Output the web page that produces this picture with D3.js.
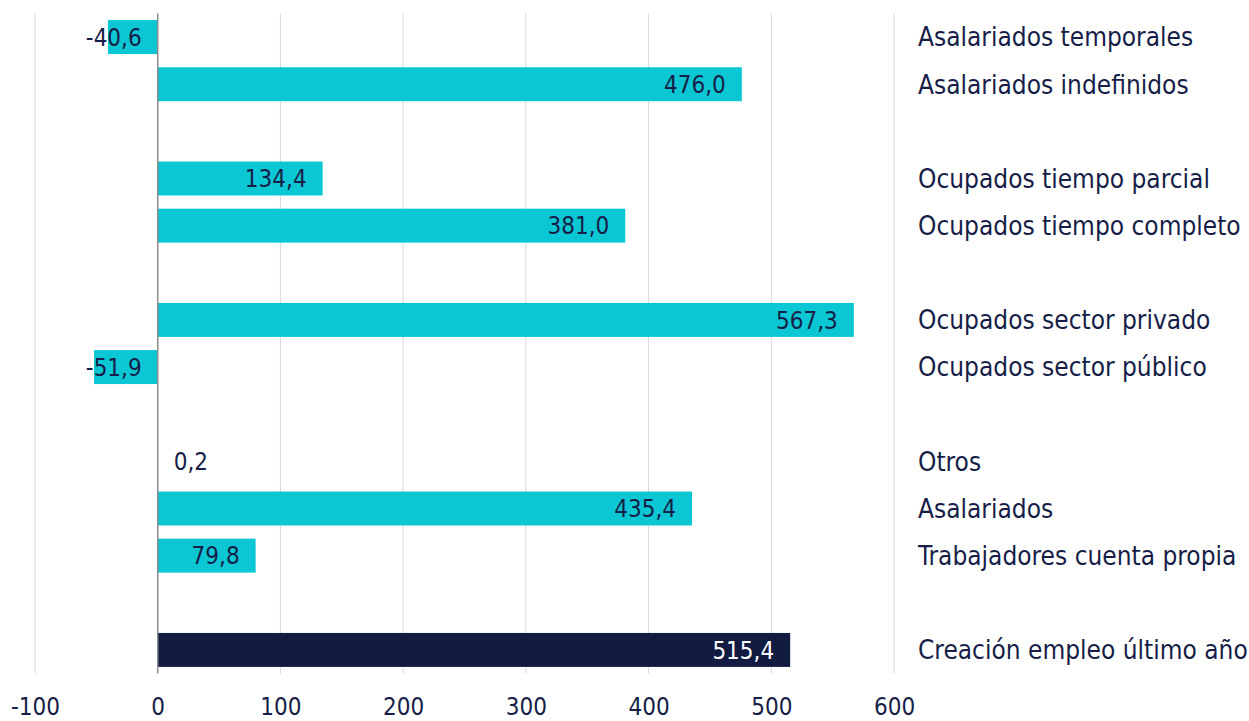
<!DOCTYPE html>
<html>
<head>
<meta charset="utf-8">
<script src="https://cdn.jsdelivr.net/npm/d3@7"></script>
<style>
  body { margin: 0; background: #fff; }
  text { font-family: "DejaVu Sans Condensed", "DejaVu Sans", sans-serif; font-stretch: condensed; }
</style>
</head>
<body>
<script>
// rows top to bottom, null = empty gap row
const categories = [
  "Asalariados temporales", "Asalariados indefinidos", null,
  "Ocupados tiempo parcial", "Ocupados tiempo completo", null,
  "Ocupados sector privado", "Ocupados sector público", null,
  "Otros", "Asalariados", "Trabajadores cuenta propia", null,
  "Creación empleo último año"
];
const values = [
  -40.6, 476.0, null,
  134.4, 381.0, null,
  567.3, -51.9, null,
  0.2, 435.4, 79.8, null,
  515.4
];
const totalCategory = "Creación empleo último año";
const xTicks = [-100, 0, 100, 200, 300, 400, 500, 600];

let width = 1249;
let height = 721;
let marginTop = 13.5;
let marginBottom = 47.5;
let plotLeft = 35;
let plotRight = 894;

const cyan = "#0bc7d3";
const navy = "#121b41";
const textColor = "#161e48";

const fmt = v => d3.format(".1f")(v).replace("−", "-").replace(".", ",");

const rows = categories.map((c, i) => ({ i, name: c, value: values[i] }));

const x = d3.scaleLinear()
  .domain([-100, 600])
  .range([plotLeft, plotRight]);

const y = d3.scaleBand()
  .domain(rows.map(d => d.i))
  .range([marginTop, height - marginBottom])
  .paddingInner(0.28)
  .paddingOuter(0.14);

const svg = d3.select("body")
  .append("svg")
  .attr("width", width)
  .attr("height", height)
  .attr("viewBox", [0, 0, width, height]);

// gridlines
svg.append("g")
  .selectAll("line")
  .data(xTicks.filter(t => t !== 0))
  .join("line")
  .attr("x1", d => x(d))
  .attr("x2", d => x(d))
  .attr("y1", marginTop)
  .attr("y2", height - marginBottom)
  .attr("stroke", "#d9d9d9")
  .attr("stroke-width", 1);

const data = rows.filter(d => d.name !== null);

// bars
svg.append("g")
  .selectAll("rect")
  .data(data)
  .join("rect")
  .attr("x", d => x(Math.min(0, d.value)))
  .attr("width", d => Math.abs(x(d.value) - x(0)))
  .attr("y", d => y(d.i))
  .attr("height", y.bandwidth())
  .attr("fill", d => d.name === totalCategory ? navy : cyan);

// zero axis
svg.append("line")
  .attr("x1", x(0))
  .attr("x2", x(0))
  .attr("y1", marginTop)
  .attr("y2", height - marginBottom)
  .attr("stroke", "#8c8c8c")
  .attr("stroke-width", 1.5);

// value labels
const shortBar = d => d.value >= 0 && x(d.value) - x(0) < 70;
svg.append("g")
  .selectAll("text")
  .data(data)
  .join("text")
  .attr("x", d => {
    if (d.value < 0) return x(0) - 16;
    if (shortBar(d)) return x(0) + 16;
    return x(d.value) - 16;
  })
  .attr("text-anchor", d => shortBar(d) ? "start" : "end")
  .attr("y", d => y(d.i) + y.bandwidth() / 2)
  .attr("dy", "0.36em")
  .attr("font-size", 24)
  .attr("fill", d => d.name === totalCategory ? "#fff" : textColor)
  .text(d => fmt(d.value));

// category labels
svg.append("g")
  .selectAll("text")
  .data(data)
  .join("text")
  .attr("x", 918)
  .attr("y", d => y(d.i) + y.bandwidth() / 2)
  .attr("dy", "0.36em")
  .attr("font-size", 26)
  .attr("fill", textColor)
  .text(d => d.name);

// x axis
svg.append("g")
  .attr("transform", `translate(0,${height - marginBottom})`)
  .call(d3.axisBottom(x).tickValues(xTicks).tickSize(0).tickPadding(24)
    .tickFormat(d => String(d)))
  .call(g => g.select(".domain").remove())
  .call(g => g.selectAll("text")
    .attr("font-size", 24)
    .attr("font-family", null)
    .attr("fill", textColor));
</script>
</body>
</html>
